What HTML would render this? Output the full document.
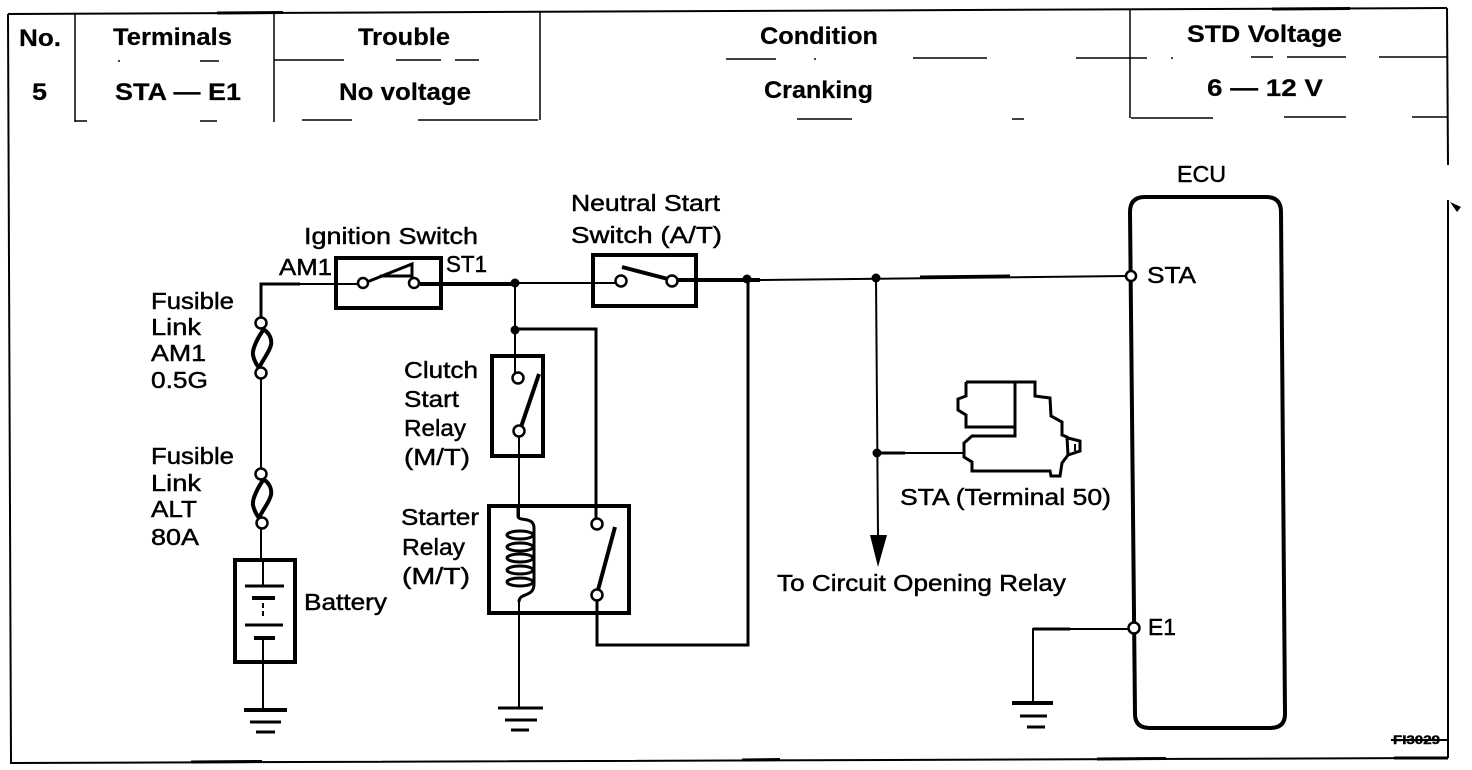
<!DOCTYPE html>
<html><head><meta charset="utf-8"><style>
html,body{margin:0;padding:0;background:#fff;width:1472px;height:770px;overflow:hidden}
svg{display:block}
text{font-family:"Liberation Sans",sans-serif;font-size:23px;fill:#000;stroke:#000;stroke-width:.45px}
text.b{font-weight:bold;font-size:24px;stroke-width:.2px}
.w{fill:none;stroke:#000;stroke-width:2}
.n{fill:none;stroke:#000;stroke-width:1.5}
.h{fill:none;stroke:#000;stroke-width:4}
.t{fill:none;stroke:#000;stroke-width:3}
.c{fill:#fff;stroke:#000;stroke-width:2.5}
.d{fill:#000}
</style></head><body>
<svg width="1472" height="770" viewBox="0 0 1472 770" xmlns="http://www.w3.org/2000/svg">
<!-- frame -->
<path class="w" d="M8 14L1447 8"/>
<path class="w" d="M8 14L11 763L1448 758"/>
<path class="w" d="M1447 8L1448 165M1448 200V758"/>
<path class="n" d="M75 14V122M274 13V122M540 12V120M1130 10V118"/>
<path class="t" d="M217 13L283 12.500M1272 9L1350 8.500"/>
<path class="t" d="M191 762L262 761.500M742 760L780 759.500M1097 759L1166 758.500M1394 758H1448"/>
<path class="n" d="M118 61h2M200 61h19M274 60h70M396 60h45M455 60h24M726 59h50M814 59h2M913 58h74M1076 58h71M1171 58h2M1251 57h22M1287 57h59M1379 57h68"/>
<path class="n" d="M75 121h12M200 121h17M302 120h50M418 120h120M797 119h55M1012 119h12M1131 118h82M1284 117h62M1412 117h36"/>
<path class="d" d="M1450 202L1461 207L1457 212Z"/>
<!-- header text -->
<text class="b" x="19" y="46" textLength="42" lengthAdjust="spacingAndGlyphs">No.</text>
<text class="b" x="113" y="45" textLength="119" lengthAdjust="spacingAndGlyphs">Terminals</text>
<text class="b" x="358" y="45" textLength="92" lengthAdjust="spacingAndGlyphs">Trouble</text>
<text class="b" x="760" y="44" textLength="118" lengthAdjust="spacingAndGlyphs">Condition</text>
<text class="b" x="1187" y="42" textLength="155" lengthAdjust="spacingAndGlyphs">STD Voltage</text>
<text class="b" x="32" y="100" textLength="15" lengthAdjust="spacingAndGlyphs">5</text>
<text class="b" x="115" y="100" textLength="126" lengthAdjust="spacingAndGlyphs">STA — E1</text>
<text class="b" x="339" y="100" textLength="132" lengthAdjust="spacingAndGlyphs">No voltage</text>
<text class="b" x="764" y="98" textLength="109" lengthAdjust="spacingAndGlyphs">Cranking</text>
<text class="b" x="1207" y="96" textLength="116" lengthAdjust="spacingAndGlyphs">6 — 12 V</text>
<!-- boxes -->
<rect class="h" x="336" y="258" width="105" height="50"/>
<rect class="h" x="593" y="255" width="103" height="51"/>
<rect class="h" x="492" y="356" width="51" height="100"/>
<rect class="h" x="489" y="506" width="140" height="107"/>
<rect class="h" x="235" y="560" width="60" height="102"/>
<path class="h" d="M1130 212Q1130 197 1145 197H1266Q1281 197 1281 212L1285 714Q1285 728 1270 728H1150Q1135 728 1135 714Z"/>
<!-- wires -->
<path class="t" d="M261 325V284H300"/>
<path class="w" d="M300 284H358M261 373V470M261 528V560M263 560V586M263 638V708"/>
<path class="h" d="M420 284H515"/>
<path class="w" d="M515 283H616M515 283V373M519 436V517M519 600V708"/>
<path class="t" d="M515 329H596V519"/>
<path class="h" d="M677 280H760"/>
<path class="w" d="M760 280L1126 276"/>
<path class="t" d="M920 277L1010 276"/>
<path class="t" d="M748 280V645H597V600"/>
<path class="w" d="M876 278L878 536"/>
<path class="t" d="M876 453H905"/>
<path class="w" d="M905 453H965"/>
<path class="w" d="M1129 629H1033V703"/>
<path class="t" d="M1033 629H1070"/>
<!-- junctions -->
<circle class="d" cx="515" cy="283" r="4.500"/><circle class="d" cx="515" cy="330" r="4.500"/>
<circle class="d" cx="747" cy="279" r="4.500"/><circle class="d" cx="876" cy="278" r="4.500"/><circle class="d" cx="877" cy="453" r="4.500"/>
<polygon class="d" points="870,535 887,535 878,567"/>
<!-- fuses -->
<path class="h" d="M264 329C258 337 252 349 253 355C254 360 256 364 259 368"/>
<path class="h" d="M263 329C270 333 272 340 271 345C269 353 263 359 259 368"/>
<path class="h" d="M264 479C258 487 252 499 253 505C254 510 256 514 259 518"/>
<path class="h" d="M263 479C270 483 272 490 271 495C269 503 263 509 259 518"/>
<!-- switches -->
<path class="t" d="M367 282L412 264V276L380 276"/>
<path class="h" d="M622 267L668 279"/>
<path class="h" d="M539 374L521 427"/>
<path class="h" d="M615 527L598 590"/>
<!-- contacts -->
<circle class="c" cx="363" cy="283" r="5"/><circle class="c" cx="414" cy="283" r="5"/>
<circle class="c" cx="621" cy="281" r="5.500"/><circle class="c" cx="672" cy="281" r="5.500"/>
<circle class="c" cx="261" cy="323" r="5.500"/><circle class="c" cx="261" cy="373" r="5.500"/>
<circle class="c" cx="261" cy="474" r="5.500"/><circle class="c" cx="262" cy="523" r="5.500"/>
<circle class="c" cx="518" cy="378" r="5.500"/><circle class="c" cx="519" cy="431" r="5.500"/>
<circle class="c" cx="597" cy="524" r="5.500"/><circle class="c" cx="597" cy="595" r="5.500"/>
<circle class="c" cx="1131" cy="276" r="5"/><circle class="c" cx="1134" cy="628" r="5.500"/>
<!-- coil -->
<path class="t" d="M518 506V516C518 522 534 516 534 528V584C534 598 519 592 519 602"/>
<ellipse class="t" cx="520" cy="535" rx="13" ry="4"/><ellipse class="t" cx="520" cy="547" rx="13" ry="4"/><ellipse class="t" cx="520" cy="558" rx="13" ry="4"/><ellipse class="t" cx="520" cy="570" rx="13" ry="4"/><ellipse class="t" cx="520" cy="582" rx="13" ry="4"/>
<!-- battery -->
<path class="t" d="M245 586H284M245 625H283"/>
<path class="h" d="M252 598H275M254 638H275"/>
<path class="w" d="M263 603V608M263 611V616"/>
<!-- grounds -->
<path class="h" d="M244 710H287"/><path class="t" d="M250 722H281M256 732H275"/>
<path class="t" d="M498 708H543M505 720H537M511 730H529"/>
<path class="h" d="M1012 703H1053"/><path class="t" d="M1020 716H1047M1027 727H1045"/>
<!-- starter motor -->
<path class="t" d="M966 382H1035V396L1050 398L1051 416L1062 422V435L1067 437L1068 455L1062 463L1060 476H1051L1050 471H972V462L964 457V443L972 436H1015V382"/>
<path class="t" d="M966 382V396L958 399V410L966 415V427H1015"/>
<path class="t" d="M1068 438L1080 441V451L1068 455"/>
<path class="w" d="M1075 444V451"/>
<!-- labels -->
<text x="151" y="309" textLength="83" lengthAdjust="spacingAndGlyphs">Fusible</text>
<text x="151" y="335" textLength="50" lengthAdjust="spacingAndGlyphs">Link</text>
<text x="151" y="361" textLength="55" lengthAdjust="spacingAndGlyphs">AM1</text>
<text x="151" y="388" textLength="57" lengthAdjust="spacingAndGlyphs">0.5G</text>
<text x="151" y="464" textLength="83" lengthAdjust="spacingAndGlyphs">Fusible</text>
<text x="151" y="491" textLength="50" lengthAdjust="spacingAndGlyphs">Link</text>
<text x="151" y="517" textLength="46" lengthAdjust="spacingAndGlyphs">ALT</text>
<text x="151" y="545" textLength="48" lengthAdjust="spacingAndGlyphs">80A</text>
<text x="304" y="244" textLength="174" lengthAdjust="spacingAndGlyphs">Ignition Switch</text>
<text x="279" y="275" textLength="53" lengthAdjust="spacingAndGlyphs">AM1</text>
<text x="446" y="272" textLength="41" lengthAdjust="spacingAndGlyphs">ST1</text>
<text x="571" y="211" textLength="149" lengthAdjust="spacingAndGlyphs">Neutral Start</text>
<text x="571" y="243" textLength="151" lengthAdjust="spacingAndGlyphs">Switch (A/T)</text>
<text x="404" y="378" textLength="74" lengthAdjust="spacingAndGlyphs">Clutch</text>
<text x="404" y="407" textLength="55" lengthAdjust="spacingAndGlyphs">Start</text>
<text x="404" y="436" textLength="62" lengthAdjust="spacingAndGlyphs">Relay</text>
<text x="404" y="465" textLength="66" lengthAdjust="spacingAndGlyphs">(M/T)</text>
<text x="401" y="525" textLength="78" lengthAdjust="spacingAndGlyphs">Starter</text>
<text x="402" y="555" textLength="63" lengthAdjust="spacingAndGlyphs">Relay</text>
<text x="402" y="584" textLength="68" lengthAdjust="spacingAndGlyphs">(M/T)</text>
<text x="304" y="610" textLength="83" lengthAdjust="spacingAndGlyphs">Battery</text>
<text x="1177" y="182" textLength="49" lengthAdjust="spacingAndGlyphs">ECU</text>
<text x="1147" y="283" textLength="49" lengthAdjust="spacingAndGlyphs">STA</text>
<text x="1148" y="635" textLength="28" lengthAdjust="spacingAndGlyphs">E1</text>
<text x="900" y="505" textLength="211" lengthAdjust="spacingAndGlyphs">STA (Terminal 50)</text>
<text x="777" y="591" textLength="289" lengthAdjust="spacingAndGlyphs">To Circuit Opening Relay</text>
<text x="1393" y="744" textLength="47" lengthAdjust="spacingAndGlyphs" style="font-size:12px;font-weight:bold">FI3029</text>
<path class="w" d="M1391 740H1448"/>
</svg>
</body></html>
